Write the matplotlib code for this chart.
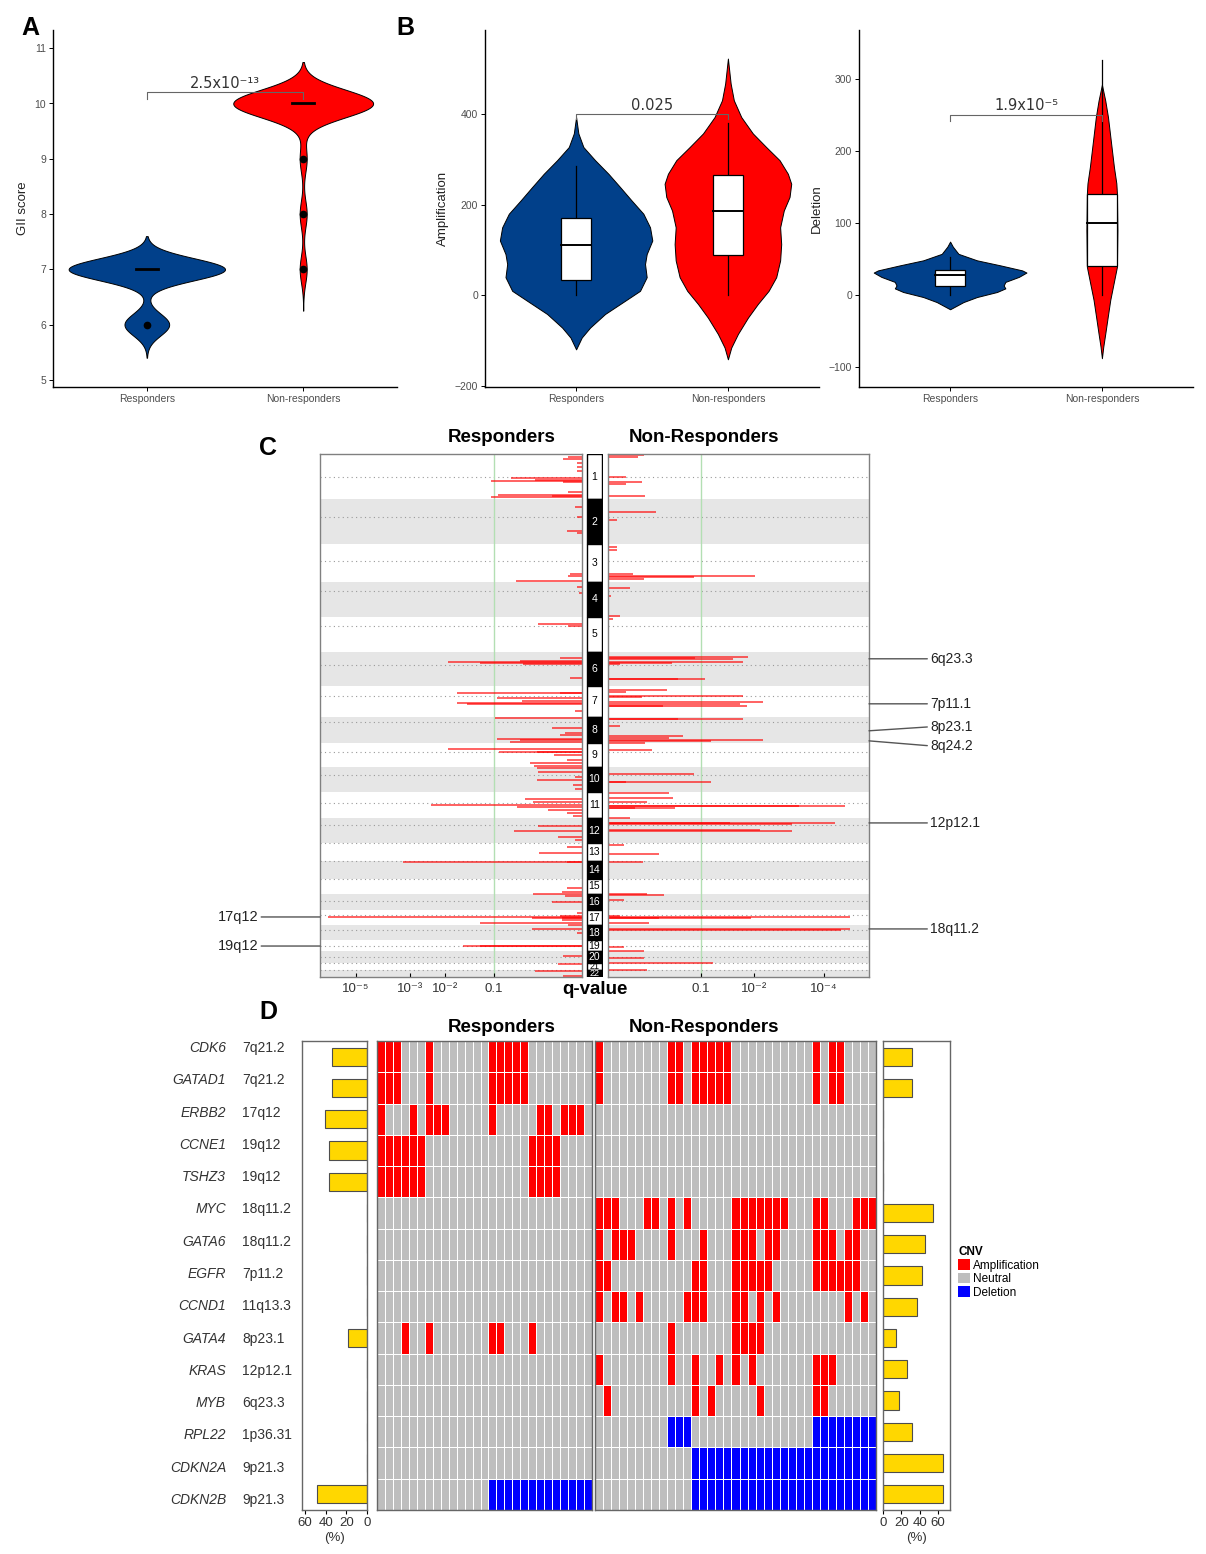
import numpy as np
import matplotlib
matplotlib.use("Agg")
import matplotlib.pyplot as plt
from matplotlib import transforms
from matplotlib.colors import ListedColormap
from matplotlib.patches import Patch, Rectangle

plt.rcParams['font.family'] = ['Liberation Sans', 'DejaVu Sans']
plt.rcParams['mathtext.default'] = 'regular'

# ---------------- data ----------------
groups = ["Responders", "Non-responders"]

# A: GII score (counts of patients per score)
gii_resp_scores = [6, 7]
gii_resp_counts = [6, 21]
gii_nonresp_scores = [7, 8, 9, 10]
gii_nonresp_counts = [1, 1, 1, 20]
gii_bandwidth = [0.2, 0.25]
gii_p = "2.5x10\u207b\u00b9\u00b3"

# B: violin outlines (value, half width) and box stats [low, q1, median, q3, high]
amp_resp_y = [393, 357, 327, 298, 268, 239, 209, 180, 150, 121, 91, 69, 40, 10, -12, -41, -71, -93, -119]
amp_resp_hw = [0, .015, .048, .125, .213, .289, .366, .443, .487, .502, .465, .454, .465, .421, .322, .191, .092, .037, 0]
amp_nonresp_y = [522, 467, 430, 393, 357, 327, 298, 268, 246, 217, 187, 150, 113, 77, 40, 10, -19, -49, -85, -115, -141]
amp_nonresp_hw = [0, .018, .039, .088, .164, .252, .34, .395, .417, .406, .368, .344, .351, .344, .318, .268, .197, .132, .066, .022, 0]
amp_resp_box = [0, 33, 110, 171, 285]
amp_nonresp_box = [0, 90, 185, 265, 380]
amp_p = "0.025"

del_resp_y = [74, 67, 57, 48, 41, 34, 31, 25, 18, 13, 9, 4, -3, -10, -20]
del_resp_hw = [0, .018, .055, .177, .331, .475, .503, .453, .364, .353, .364, .309, .177, .088, 0]
del_nonresp_y = [292, 270, 247, 224, 201, 178, 155, 141, 90, 39, 16, -7, -31, -54, -72, -88]
del_nonresp_hw = [0, .022, .04, .053, .066, .079, .095, .099, .102, .099, .077, .055, .038, .022, .009, 0]
del_resp_box = [0, 12.5, 27, 35, 53]
del_nonresp_box = [0, 40, 100, 140, 327]
del_p = "1.9x10\u207b\u2075"

# C: GISTIC q-values (-log10 q) per segment, chromosome spans covered (Mb)
chrom_span_mb = [237, 237, 198, 187, 181, 179, 163, 140, 123, 135, 137,
                 132, 96, 91, 81, 83, 81, 77, 59, 63, 38, 35]
centromere_mb = [123, 92, 87, 49, 45, 73, 57, 31, 44, 43, 55,
                 37, 0, 0, 0, 37, 27, 25, 31, 31, 0, 0]

resp_chrom = ([1] * 13 + [2] * 4 + [3] * 3 + [4] * 2 + [5] * 2 + [6] * 6 + [7] * 7 + [8] * 7
              + [9] * 7 + [10] * 6 + [11] * 7 + [12] * 4 + [13] * 2 + [14] * 2 + [15] * 2
              + [16] * 3 + [17] * 8 + [18] * 2 + [19] * 2 + [20] + [21] + [22] * 2)
resp_pos = [17, 28, 50, 67, 90, 128, 137, 142, 146, 198, 216, 221, 228,
            44, 95, 166, 180,
            158, 168, 193,
            26, 60,
            35, 49,
            35, 47, 56, 60, 65, 137,
            37, 40, 66, 79, 93, 98, 132,
            9, 61, 88, 96, 117, 122, 136,
            32, 44, 47, 61, 88, 105, 118,
            9, 30, 53, 70, 95, 120,
            37, 50, 65, 76, 93, 110, 125,
            40, 66, 97, 115,
            18, 53,
            1, 5,
            49, 72,
            0, 12, 39,
            17, 30, 35, 40, 45, 53, 67, 78,
            21, 40,
            32, 34,
            28,
            4,
            5, 28]
resp_logq = [.19, .22, .14, .14, .14, .75, .46, 1.05, .22, .19, .93, .30, 1.05,
             .15, .14, .20, .14,
             .18, .19, .68,
             .14, .13,
             .43, .19,
             .24, .63, 1.93, 1.24, .59, .18,
             1.72, .24, .95, .60, 1.72, 1.50, .15,
             .98, .30, .21, .24, .95, .63, .76,
             1.93, .92, .44, .29, .20, .51, .47,
             .44, .43, .15, .44, .16, .15,
             .57, .48, 2.37, .66, .34, .20, .16,
             .43, .70, .26, .15,
             .20, .42,
             3.22, .20,
             .20, .23,
             .48, .21, .30,
             .14, .24, 6.29, .23, .49, .23, 1.24, .19,
             .49, .14,
             1.59, 1.24,
             .22,
             .26,
             .46, .22]

nonresp_chrom = ([1] * 6 + [2] * 2 + [3] * 6 + [4] * 3 + [5] + [6] * 8 + [7] * 8 + [8] * 8
                 + [9] + [10] * 3 + [11] * 7 + [12] * 6 + [13] * 2 + [14] + [16] * 3
                 + [17] * 5 + [18] * 2 + [19] * 2 + [20] + [21] + [22])
nonresp_pos = [5, 14, 123, 146, 160, 221,
               66, 111,
               15, 32, 158, 168, 175, 182,
               32, 76, 180,
               10,
               30, 35, 40, 53, 61, 66, 144, 146,
               23, 35, 54, 61, 89, 97, 106, 110,
               12, 14, 49, 100, 114, 122, 131, 140,
               35,
               40, 79, 80,
               2, 32, 50, 71, 72, 81, 84,
               0, 26, 27, 28, 61, 70,
               9, 56,
               5,
               0, 2, 30,
               30, 39, 40, 41, 67,
               21, 22,
               35, 58,
               37,
               0,
               0]
nonresp_logq = [.35, .30, .22, .33, .22, .36,
                .45, .17,
                .17, .17, .27, 2.02, .90, .35,
                .25, .14, .19,
                .15,
                1.87, .91, 1.55, 1.76, .62, .19, 1.06, .69,
                .56, .22, 1.76, .33, 2.21, 1.70, 1.84, .52,
                1.76, .69, .19, .75, .58, 2.21, 1.16, .36,
                .42,
                .90, 1.16, .22,
                .58, .63, .37, 4.77, 3.20, .65, .28,
                .25, 4.39, 1.50, 2.98, 2.14, 2.98,
                .21, .48,
                .34,
                .37, .53, .21,
                .19, 4.96, .48, 1.93, .39,
                4.96, 4.60,
                .21, .35,
                .35,
                1.19,
                .37]

q_ticks_left = [5, 3, 2, 1]
q_labels_left = ["10\u207b\u2075", "10\u207b\u00b3", "10\u207b\u00b2", "0.1"]
q_ticks_right = [1, 2, 4]
q_labels_right = ["0.1", "10\u207b\u00b2", "10\u207b\u2074"]

right_peaks = ["6q23.3", "7p11.1", "8p23.1", "8q24.2", "12p12.1", "18q11.2"]
right_peak_chrom = [6, 7, 8, 8, 12, 18]
right_peak_pos = [38, 96, 75, 128, 25, 19]
left_peaks = ["17q12", "19q12"]
left_peak_chrom = [17, 19]
left_peak_pos = [37, 32]

# D: oncoprint ('A' amplification, '.' neutral, 'D' deletion)
genes = ["CDK6", "GATAD1", "ERBB2", "CCNE1", "TSHZ3", "MYC", "GATA6", "EGFR",
         "CCND1", "GATA4", "KRAS", "MYB", "RPL22", "CDKN2A", "CDKN2B"]
cytobands = ["7q21.2", "7q21.2", "17q12", "19q12", "19q12", "18q11.2", "18q11.2",
             "7p11.2", "11q13.3", "8p23.1", "12p12.1", "6q23.3", "1p36.31",
             "9p21.3", "9p21.3"]
resp_cnv = ["AAA...A.......AAAAA........",
            "AAA...A.......AAAAA........",
            "A...A.AAA.....A.....AA.AAA.",
            "AAAAAA.............AAAA....",
            "AAAAAA.............AAAA....",
            "." * 27, "." * 27, "." * 27, "." * 27,
            "...A..A.......AA...A.......",
            "." * 27, "." * 27, "." * 27, "." * 27,
            "..............DDDDDDDDDDDDD"]
nonresp_cnv = ["A........AA.AAAAA..........A.AA....",
               "A........AA.AAAAA..........A.AA....",
               "." * 35, "." * 35, "." * 35,
               "AAA...AA.A.A.....AAAAAAA...AA...AAA",
               "A.AAA....A...A...AAA.AA....AAA.AA..",
               "AA..........AA...AAAAA.....AAAAAA..",
               "A.AA.A.....AAA...AA.A.A........A.A.",
               ".........A.......AAAA..............",
               "A........A..A..A.A.A.......AAA.....",
               ".A..........A.A.....A......AA......",
               ".........DDD...............DDDDDDDD",
               "............DDDDDDDDDDDDDDDDDDDDDDD",
               "............DDDDDDDDDDDDDDDDDDDDDDD"]
cnv_names = ["Amplification", "Neutral", "Deletion"]

# ---------------- styling ----------------
BLUE = "#01408A"
RED = "#FF0000"
W, H = 1206, 1554
fig = plt.figure(figsize=(W / 100, H / 100), dpi=100)


def px_rect(l, t, r, b):
    return [l / W, 1 - b / H, (r - l) / W, (b - t) / H]


def style_violin_axes(ax, ylim, yticks, ylabel):
    ax.set_xlim(0.4, 2.6)
    ax.set_ylim(*ylim)
    ax.set_xticks([1, 2])
    ax.set_xticklabels(groups)
    ax.set_yticks(yticks)
    for s in ["top", "right"]:
        ax.spines[s].set_visible(False)
    for s in ["left", "bottom"]:
        ax.spines[s].set_linewidth(1.0)
    ax.tick_params(labelsize=7.5, labelcolor="#4d4d4d", length=3, width=0.7, pad=2)
    ax.set_ylabel(ylabel, fontsize=9.5, color="#222222", labelpad=4)


def draw_box(ax, x, stats, width, outliers=()):
    lo, q1, med, q3, hi = stats
    ax.plot([x, x], [lo, q1], color="black", lw=0.9, zorder=3)
    ax.plot([x, x], [q3, hi], color="black", lw=0.9, zorder=3)
    if q3 > q1:
        ax.add_patch(Rectangle((x - width / 2, q1), width, q3 - q1, facecolor="white",
                               edgecolor="black", lw=0.9, zorder=3))
        ax.plot([x - width / 2, x + width / 2], [med, med], color="black", lw=1.4, zorder=4)
    else:
        ax.plot([x - width / 2, x + width / 2], [med, med], color="black", lw=2, zorder=4)
    if len(outliers):
        ax.plot([x] * len(outliers), outliers, "o", color="black", ms=4.5, zorder=4)


def bracket(ax, y, drop, text):
    ax.plot([1, 1, 2, 2], [y - drop, y, y, y - drop], color="#666666", lw=0.8, zorder=5)
    ax.text(1.5, y + drop * 0.25, text, ha="center", va="bottom", fontsize=10.5,
            color="#333333", family="DejaVu Sans")


# ---------------- A ----------------
axA = fig.add_axes(px_rect(53, 30, 397, 387))
samples = [np.repeat(gii_resp_scores, gii_resp_counts),
           np.repeat(gii_nonresp_scores, gii_nonresp_counts)]
dens = []
for s, bw in zip(samples, gii_bandwidth):
    yy = np.linspace(s.min() - 3 * bw, s.max() + 3 * bw, 500)
    d = np.exp(-0.5 * ((yy[:, None] - s[None, :]) / bw) ** 2).sum(1) / (len(s) * bw * np.sqrt(2 * np.pi))
    dens.append((yy, d))
scale = 0.5 / max(d.max() for _, d in dens)
for i, ((yy, d), s, c) in enumerate(zip(dens, samples, [BLUE, RED])):
    x = i + 1
    axA.fill_betweenx(yy, x - d * scale, x + d * scale, facecolor=c, edgecolor="black", lw=0.7)
    q1, med, q3 = np.percentile(s, [25, 50, 75])
    iqr = q3 - q1
    inside = s[(s >= q1 - 1.5 * iqr) & (s <= q3 + 1.5 * iqr)]
    outl = np.unique(s[(s < inside.min()) | (s > inside.max())])
    draw_box(axA, x, [inside.min(), q1, med, q3, inside.max()], 0.14, outl)
style_violin_axes(axA, (4.87, 11.33), range(5, 12), "GII score")
bracket(axA, 10.2, 0.12, gii_p)

# ---------------- B ----------------
axB1 = fig.add_axes(px_rect(485, 30, 819, 387))
axB2 = fig.add_axes(px_rect(859, 30, 1193, 387))
for ax, profiles, boxes in [
        (axB1, [(amp_resp_y, amp_resp_hw), (amp_nonresp_y, amp_nonresp_hw)], [amp_resp_box, amp_nonresp_box]),
        (axB2, [(del_resp_y, del_resp_hw), (del_nonresp_y, del_nonresp_hw)], [del_resp_box, del_nonresp_box])]:
    for i, ((py, ph), bx, c) in enumerate(zip(profiles, boxes, [BLUE, RED])):
        x = i + 1
        py = np.asarray(py, float)
        ph = np.asarray(ph, float)
        ax.fill_betweenx(py, x - ph, x + ph, facecolor=c, edgecolor="black", lw=0.7,
                         joinstyle="round")
        draw_box(ax, x, bx, 0.2)
style_violin_axes(axB1, (-202, 585), [-200, 0, 200, 400], "Amplification")
style_violin_axes(axB2, (-128, 368), [-100, 0, 100, 200, 300], "Deletion")
bracket(axB1, 400, 12, amp_p)
bracket(axB2, 250, 8, del_p)

# ---------------- C ----------------
span = np.array(chrom_span_mb, float)
chr_start = np.concatenate([[0], np.cumsum(span)[:-1]])
genome_len = span.sum()


def genome_y(ch, pos):
    return chr_start[np.asarray(ch) - 1] + np.asarray(pos, float)


assert len(resp_chrom) == len(resp_pos) == len(resp_logq)
assert len(nonresp_chrom) == len(nonresp_pos) == len(nonresp_logq)

fwd = lambda v: np.power(np.clip(v, 1e-6, None), 0.4)
inv = lambda v: np.power(np.clip(v, 0, None), 2.5)

axL = fig.add_axes(px_rect(320, 454, 582, 977))
axI = fig.add_axes(px_rect(586, 454, 603, 977))
axR = fig.add_axes(px_rect(608, 454, 869, 977))

for ax, lim, ch, pos, lq, ticks, labels in [
        (axL, (6.7, 0.117), resp_chrom, resp_pos, resp_logq, q_ticks_left, q_labels_left),
        (axR, (0.128, 5.74), nonresp_chrom, nonresp_pos, nonresp_logq, q_ticks_right, q_labels_right)]:
    ax.set_xscale("function", functions=(fwd, inv))
    ax.set_xlim(*lim)
    ax.set_ylim(genome_len, 0)
    base = min(lim)
    for k in range(len(span)):
        if (k + 1) % 2 == 0:
            ax.axhspan(chr_start[k], chr_start[k] + span[k], color="#e6e6e6", lw=0, zorder=0)
        ax.axhline(chr_start[k] + centromere_mb[k], color="#9a9a9a", ls=(0, (1, 3)), lw=0.8, zorder=1)
    ax.axvline(1, color="#b3dfb3", lw=1.0, zorder=1)
    ax.hlines(genome_y(ch, pos), base, lq, colors="#ff0000", alpha=0.72, lw=1.2, zorder=2)
    ax.set_yticks([])
    ax.set_xticks(ticks)
    ax.set_xticklabels(labels)
    ax.minorticks_off()
    ax.tick_params(axis="x", direction="in", length=3, labelsize=9.5, labelcolor="#333333", pad=4)
    for s in ax.spines.values():
        s.set_color("#808080")
        s.set_linewidth(1.0)

axI.set_xlim(0, 1)
axI.set_ylim(genome_len, 0)
axI.axis("off")
for k in range(len(span)):
    dark = (k + 1) % 2 == 0
    axI.add_patch(Rectangle((0.04, chr_start[k]), 0.92, span[k], facecolor="black" if dark else "white",
                            edgecolor="black", lw=1.0))
    axI.text(0.5, chr_start[k] + span[k] / 2, str(k + 1), ha="center", va="center",
             fontsize=7.5 if span[k] > 45 else 6.5, color="white" if dark else "black")

px_per_mb = (977 - 454) / genome_len
right_text_dy = [0, 0, -4, 5, 0, 0]  # small vertical nudges (px) for crowded labels
for ax, labs, chs, poss, dys, side in [
        (axR, right_peaks, right_peak_chrom, right_peak_pos, right_text_dy, "right"),
        (axL, left_peaks, left_peak_chrom, left_peak_pos, [0, 0], "left")]:
    tr = transforms.blended_transform_factory(ax.transAxes, ax.transData)
    for lab, ch, p, dy in zip(labs, chs, poss, dys):
        yv = genome_y(ch, p)
        yt = yv + dy / px_per_mb
        if side == "right":
            ax.annotate(lab, xy=(1, yv), xycoords=tr, xytext=(1.234, yt), textcoords=tr,
                        ha="left", va="center", fontsize=10, color="#222222",
                        arrowprops=dict(arrowstyle="-", color="#555555", lw=1, shrinkA=0, shrinkB=0,
                                        relpos=(0, 0.5)))
        else:
            ax.annotate(lab, xy=(0, yv), xycoords=tr, xytext=(-0.235, yt), textcoords=tr,
                        ha="right", va="center", fontsize=10.5, color="#222222",
                        arrowprops=dict(arrowstyle="-", color="#555555", lw=1, shrinkA=0, shrinkB=0,
                                        relpos=(1, 0.5)))

fig.text(502 / W, 1 - 438 / H, "Responders", ha="center", va="center", fontsize=13.5, fontweight="bold")
fig.text(704 / W, 1 - 438 / H, "Non-Responders", ha="center", va="center", fontsize=13.5, fontweight="bold")
fig.text(595 / W, 1 - 989 / H, "q-value", ha="center", va="center", fontsize=13.5, fontweight="bold")

# ---------------- D ----------------
code = {".": 0, "A": 1, "D": 2}
cmap = ListedColormap(["#BEBEBE", "#FF0000", "#0000FF"])
n_genes = len(genes)

axLab = fig.add_axes(px_rect(150, 1032, 300, 1516))
axLab.set_xlim(0, 1)
axLab.set_ylim(n_genes, 0)
axLab.axis("off")
for i, (g, band) in enumerate(zip(genes, cytobands)):
    axLab.text(0.507, i + 0.5, g, ha="right", va="center", fontsize=10, style="italic", color="#333333")
    axLab.text(0.613, i + 0.5, band, ha="left", va="center", fontsize=10, color="#333333")

mats = []
for rows, rect in [(resp_cnv, (377, 1041, 592, 1510)), (nonresp_cnv, (595, 1041, 876, 1510))]:
    assert all(len(r) == len(rows[0]) for r in rows)
    mat = np.array([[code[c] for c in r] for r in rows])
    mats.append(mat)
    ax = fig.add_axes(px_rect(*rect))
    ax.pcolormesh(mat, cmap=cmap, vmin=0, vmax=2, edgecolors="white", linewidth=0.7)
    ax.set_xlim(0, mat.shape[1])
    ax.set_ylim(n_genes, 0)
    ax.set_xticks([])
    ax.set_yticks([])
    for s in ax.spines.values():
        s.set_color("#666666")
        s.set_linewidth(1.0)

for mat, rect, lim, ticks in [(mats[0], (302, 1041, 367, 1510), (62.8, 0), [60, 40, 20, 0]),
                              (mats[1], (883, 1041, 950, 1510), (0, 72.8), [0, 20, 40, 60])]:
    pct = (mat != 0).sum(1) / mat.shape[1] * 100
    ax = fig.add_axes(px_rect(*rect))
    ax.barh(np.arange(n_genes) + 0.5, pct, height=0.58, color="#FFD700", edgecolor="#4d4d4d", lw=0.8)
    ax.set_xlim(*lim)
    ax.set_ylim(n_genes, 0)
    ax.set_yticks([])
    ax.set_xticks(ticks)
    ax.tick_params(axis="x", labelsize=9.5, labelcolor="#333333", length=3, pad=2)
    ax.set_xlabel("(%)", fontsize=9.5, color="#333333", labelpad=2)
    for s in ax.spines.values():
        s.set_color("#666666")
        s.set_linewidth(1.0)

fig.text(502 / W, 1 - 1027 / H, "Responders", ha="center", va="center", fontsize=13.5, fontweight="bold")
fig.text(704 / W, 1 - 1027 / H, "Non-Responders", ha="center", va="center", fontsize=13.5, fontweight="bold")

handles = [Patch(facecolor=c, edgecolor="none") for c in ["#FF0000", "#BEBEBE", "#0000FF"]]
leg = fig.legend(handles, cnv_names, loc="upper left", bbox_to_anchor=(958 / W, 1 - 1246 / H),
                 title="CNV", fontsize=8.5, frameon=False, handlelength=1.0, handleheight=1.0,
                 handletextpad=0.3, labelspacing=0.1, borderpad=0, borderaxespad=0,
                 alignment="left", title_fontproperties={"weight": "bold", "size": 8.5})

# panel letters
for lab, x, y in [("A", 30, 28), ("B", 405, 28), ("C", 268, 448), ("D", 268, 1012)]:
    fig.text(x / W, 1 - y / H, lab, ha="center", va="center", fontsize=18, fontweight="bold")

fig.savefig("out.png", dpi=100)
